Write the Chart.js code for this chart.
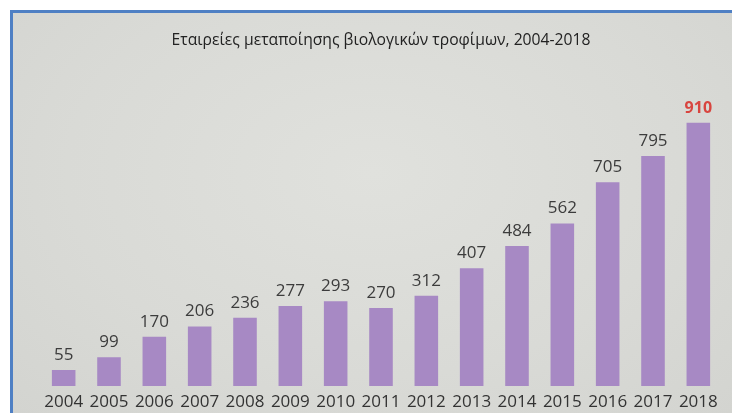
<!DOCTYPE html>
<html>
<head>
<meta charset="utf-8">
<script src="https://cdn.jsdelivr.net/npm/chart.js@4"></script>
<style>
html,body{margin:0;padding:0;background:#fff;}
#wrap{position:relative;width:732px;height:413px;overflow:hidden;}
#frame{position:absolute;left:10px;top:10px;width:719px;height:400px;border-left:3px solid #4f80c4;border-top:3px solid #4f80c4;
background:radial-gradient(ellipse at 50% 40%, #e0e1dd 0%, #d9dad6 60%, #d3d4d0 100%);}
canvas{position:absolute;left:0;top:0;}
</style>
</head>
<body>
<div id="wrap">
<div id="frame"></div>
<canvas id="c" width="732" height="419"></canvas>
</div>
<script>
const titleText = "Εταιρείες μεταποίησης βιολογικών τροφίμων, 2004-2018";
const years = ["2004","2005","2006","2007","2008","2009","2010","2011","2012","2013","2014","2015","2016","2017","2018"];
const companies = [55, 99, 170, 206, 236, 277, 293, 270, 312, 407, 484, 562, 705, 795, 910];
const highlightIndex = 14;

const valueLabels = {
  id: 'valueLabels',
  afterDatasetsDraw(chart) {
    const ctx = chart.ctx;
    const meta = chart.getDatasetMeta(0);
    ctx.save();
    ctx.textAlign = 'center';
    ctx.textBaseline = 'alphabetic';
    meta.data.forEach((bar, i) => {
      if (i === highlightIndex) {
        ctx.fillStyle = '#d8453f';
        ctx.font = 'bold 16px "Open Sans"';
      } else {
        ctx.fillStyle = '#3c3c3c';
        ctx.font = '17px "Open Sans"';
      }
      ctx.fillText(String(companies[i]), bar.x, bar.y - 10);
    });
    ctx.restore();
  }
};

new Chart(document.getElementById('c'), {
  type: 'bar',
  data: {
    labels: years,
    datasets: [{
      data: companies,
      backgroundColor: '#a789c4',
      borderWidth: 0,
      barPercentage: 0.52,
      categoryPercentage: 1.0
    }]
  },
  options: {
    responsive: false,
    animation: false,
    devicePixelRatio: 1,
    layout: { padding: { left: 41, right: 11, top: 0, bottom: 0.6 } },
    plugins: {
      legend: { display: false },
      tooltip: { enabled: false },
      title: {
        display: true,
        text: titleText,
        color: '#222',
        font: { family: '"Open Sans"', size: 15.7, weight: 'normal' },
        padding: { top: 31, bottom: 47 }
      }
    },
    scales: {
      x: {
        grid: { display: false, drawTicks: false },
        border: { display: false },
        ticks: { color: '#333', font: { family: '"Open Sans"', size: 17 }, padding: 6, maxRotation: 0, autoSkip: false }
      },
      y: {
        display: false,
        min: 0,
        max: 1000
      }
    }
  },
  plugins: [valueLabels]
});
</script>
</body>
</html>
